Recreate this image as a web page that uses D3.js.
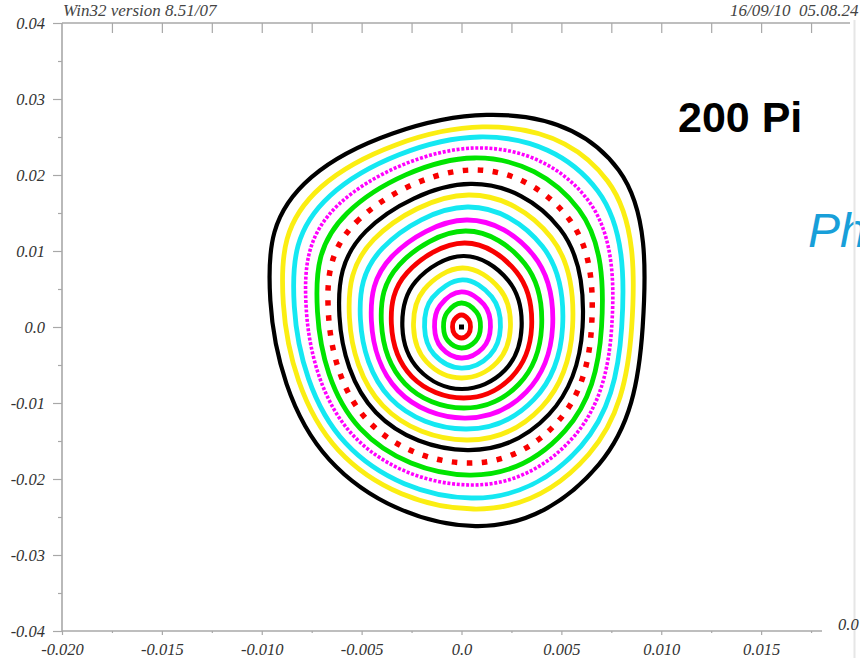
<!DOCTYPE html>
<html>
<head>
<meta charset="utf-8">
<script src="https://cdn.jsdelivr.net/npm/d3@7"></script>
<style>
  html, body { margin: 0; padding: 0; background: #fff; overflow: hidden; }
  svg { display: block; }
  text { white-space: pre; }
</style>
</head>
<body>
<svg id="chart" width="860" height="658"></svg>
<script>
// ---- Data ----
// 18 closed orbits, innermost (index 0) to outermost; 8 vertices each:
// left, top-left, top, top-right, right, bottom-right, bottom, bottom-left
const ringColor = ["red","green","magenta","cyan","yellow","black",
                   "red","green","magenta","cyan","yellow","black",
                   "red","green","magenta","cyan","yellow","black"];
const ringStyle = ["solid","solid","solid","solid","solid","solid",
                   "solid","solid","solid","solid","solid","solid",
                   "squares","solid","dots","solid","solid","solid"];

const leftX   = [-0.00045,-0.00090,-0.00135,-0.00185,-0.00240,-0.00296,-0.00351,-0.00401,-0.00451,-0.00506,-0.00561,-0.00611,-0.00666,-0.00721,-0.00777,-0.00837,-0.00892,-0.00957];
const leftY   = [0,0,0,0,0,0,0.0004,0.0006,0.0008,0.0010,0.0012,0.0014,0.0017,0.0020,0.0023,0.0027,0.0031,0.0035];
const tlX     = [-0.000361,-0.000723,-0.001073,-0.001460,-0.001874,-0.002289,-0.002721,-0.003117,-0.003507,-0.003950,-0.004386,-0.004790,-0.005261,-0.005714,-0.006143,-0.006579,-0.007021,-0.007507];
const tlY     = [0.000949,0.001898,0.002819,0.003834,0.004922,0.006011,0.007146,0.008188,0.009212,0.010375,0.011520,0.012580,0.013818,0.015009,0.016135,0.017279,0.018443,0.019717];
const topX    = [0,0,0,0.00005,0.00005,0.0001,0.00015,0.0002,0.00025,0.0003,0.00035,0.00045,0.00055,0.00065,0.00075,0.0009,0.00105,0.00125];
const topY    = [0.00158,0.00316,0.00461,0.00619,0.00776,0.00934,0.01105,0.01263,0.01408,0.01579,0.01737,0.01882,0.02066,0.02224,0.02356,0.02500,0.02632,0.02790];
const trX     = [0.000361,0.000747,0.001123,0.001513,0.001909,0.002335,0.002753,0.003167,0.003599,0.004046,0.004488,0.004924,0.005395,0.005877,0.006341,0.006820,0.007312,0.007865];
const trY     = [0.000949,0.001963,0.002950,0.003973,0.005015,0.006132,0.007230,0.008319,0.009454,0.010626,0.011789,0.012934,0.014172,0.015437,0.016656,0.017912,0.019206,0.020657];
const rightX  = [0.00045,0.00095,0.00145,0.00195,0.00245,0.00301,0.00351,0.00401,0.00456,0.00506,0.00556,0.00606,0.00651,0.00701,0.00752,0.00802,0.00852,0.00907];
const brX     = [0.000349,0.000705,0.001063,0.001417,0.001775,0.002168,0.002508,0.002870,0.003249,0.003628,0.004014,0.004379,0.004783,0.005186,0.005562,0.005976,0.006373,0.006880];
const brY     = [-0.000917,-0.001852,-0.002792,-0.003722,-0.004662,-0.005695,-0.006588,-0.007537,-0.008533,-0.009528,-0.010543,-0.011501,-0.012562,-0.013623,-0.014609,-0.015698,-0.016740,-0.018070];
const bottomX = [0,0,0,0,0,0,0.0001,0.0001,0.00015,0.0002,0.00025,0.0003,0.00035,0.0004,0.00045,0.0005,0.0006,0.0007];
const bottomY = [-0.00145,-0.00276,-0.00408,-0.00540,-0.00671,-0.00816,-0.00934,-0.01066,-0.01198,-0.01342,-0.01487,-0.01619,-0.01790,-0.01948,-0.02079,-0.02250,-0.02395,-0.02619];
const blX     = [-0.000349,-0.000684,-0.001020,-0.001375,-0.001747,-0.002133,-0.002487,-0.002834,-0.003181,-0.003564,-0.003939,-0.004283,-0.004690,-0.005077,-0.005427,-0.005810,-0.006168,-0.006628];
const blY     = [-0.000917,-0.001796,-0.002680,-0.003610,-0.004587,-0.005602,-0.006532,-0.007444,-0.008356,-0.009361,-0.010347,-0.011250,-0.012320,-0.013334,-0.014255,-0.015260,-0.016200,-0.017410];

const centerPoint = [0.0, 0.0];

const xMajorTicks = [-0.020,-0.015,-0.010,-0.005,0.0,0.005,0.010,0.015];
const xMinorTicks = [-0.0175,-0.0125,-0.0075,-0.0025,0.0025,0.0075,0.0125,0.0175];
const xTopTicks   = [-0.0175,-0.015,-0.0125,-0.010,-0.0075,-0.005,-0.0025,0.0,0.0025,0.005,0.0075,0.010,0.0125,0.015,0.0175];
const yMajorTicks = [-0.04,-0.03,-0.02,-0.01,0.0,0.01,0.02,0.03,0.04];
const yMinorTicks = [-0.035,-0.025,-0.015,-0.005,0.005,0.015,0.025,0.035];

const headerLeft = "Win32 version 8.51/07";
const headerRight = "16/09/10  05.08.24";
const titleText = "200 Pi";
const sideText = "Ph";
const neighbourLabel = "0.0";

// ---- Drawing ----
const svg = d3.select("#chart");
const x = d3.scaleLinear().domain([-0.02, 0.02]).range([62, 861]);
const y = d3.scaleLinear().domain([-0.04, 0.04]).range([631, 23]);

const colorMap = { red:"#f80000", green:"#00e400", magenta:"#ff00ff", cyan:"#14e8f2", yellow:"#fbee12", black:"#000000" };
const axisColor = "#a8a8a8";
const labelFont = "'Liberation Serif', 'DejaVu Serif', serif";
const labelSize = 16.5;

const minus = s => s.replace("\u2212", "-");
const fmtX = d => d === 0 ? "0.0" : minus(d3.format(".3f")(d));
const fmtY = d => d === 0 ? "0.0" : minus(d3.format(".2f")(d));

// left axis
const gL = svg.append("g").attr("transform", `translate(${x(-0.02)},0)`);
gL.call(d3.axisLeft(y).tickValues(yMajorTicks).tickSize(9).tickPadding(8).tickFormat(fmtY));
gL.append("g").call(d3.axisLeft(y).tickValues(yMinorTicks).tickSize(4).tickFormat(""));
// bottom axis
const gB = svg.append("g").attr("transform", `translate(0,${y(-0.04)})`);
gB.call(d3.axisBottom(x).tickValues(xMajorTicks).tickSize(4).tickPadding(8).tickFormat(fmtX));
gB.append("g").call(d3.axisBottom(x).tickValues(xMinorTicks).tickSize(2).tickFormat(""));
// top frame
const gT = svg.append("g").attr("transform", `translate(0,${y(0.04)})`);
gT.call(d3.axisBottom(x).tickValues(xTopTicks).tickSize(10).tickFormat(""));

svg.selectAll(".domain").remove();
svg.selectAll(".tick line").attr("stroke", axisColor).attr("stroke-width", 1.2);
svg.selectAll(".tick text").attr("fill", "#333").attr("font-family", labelFont)
   .attr("font-style", "italic").attr("font-size", labelSize);

// axis lines
svg.append("line").attr("x1", x(-0.02)).attr("x2", x(-0.02)).attr("y1", y(0.04)).attr("y2", y(-0.04) + 1)
   .attr("stroke", axisColor).attr("stroke-width", 1.6);
svg.append("line").attr("x1", x(-0.02)).attr("x2", 822).attr("y1", y(-0.04)).attr("y2", y(-0.04))
   .attr("stroke", axisColor).attr("stroke-width", 1.6);
svg.append("line").attr("x1", x(-0.02)).attr("x2", 850).attr("y1", y(0.04)).attr("y2", y(0.04))
   .attr("stroke", axisColor).attr("stroke-width", 1.6);

// rings
const line = d3.line().x(d => x(d[0])).y(d => y(d[1])).curve(d3.curveCardinalClosed.tension(-0.125));
const rings = ringColor.map((c, i) => ({
  color: c, style: ringStyle[i],
  pts: [[leftX[i], leftY[i]], [tlX[i], tlY[i]], [topX[i], topY[i]], [trX[i], trY[i]],
        [rightX[i], 0], [brX[i], brY[i]], [bottomX[i], bottomY[i]], [blX[i], blY[i]]]
}));
svg.append("g").selectAll("path").data(rings).join("path")
  .attr("d", d => line(d.pts))
  .attr("fill", "none")
  .attr("stroke", d => colorMap[d.color])
  .attr("stroke-width", d => d.style === "squares" ? 5.5 : d.style === "dots" ? 3.6 : (d.color === "black" ? 4.2 : 4.8))
  .attr("stroke-dasharray", d => d.style === "squares" ? "5.5 9.5" : d.style === "dots" ? "3 1.7" : null)
  .attr("stroke-linecap", "butt");

svg.append("rect").attr("x", x(centerPoint[0]) - 2.5).attr("y", y(centerPoint[1]) - 2.5)
   .attr("width", 5).attr("height", 5).attr("fill", "#000");

// header texts
svg.append("text").attr("x", 63).attr("y", 16).text(headerLeft)
   .attr("font-family", labelFont).attr("font-style", "italic").attr("font-size", 17).attr("fill", "#444");
svg.append("text").attr("x", 730).attr("y", 16).text(headerRight)
   .attr("font-family", labelFont).attr("font-style", "italic").attr("font-size", 17).attr("fill", "#444");

// annotation
svg.append("text").attr("x", 678).attr("y", 132).text(titleText)
   .attr("font-family", "'Liberation Sans', Arial, sans-serif").attr("font-weight", "bold")
   .attr("font-size", 43).attr("fill", "#000");
svg.append("text").attr("x", 808).attr("y", 247).text(sideText)
   .attr("font-family", "'Liberation Sans', Arial, sans-serif").attr("font-style", "italic")
   .attr("font-size", 48).attr("fill", "#189fd9");

// overlapping neighbour panel fragments
svg.append("line").attr("x1", 854.5).attr("x2", 854.5).attr("y1", 20).attr("y2", 658)
   .attr("stroke", "#e6e6e6").attr("stroke-width", 2);
svg.append("text").attr("x", 838).attr("y", 630).text(neighbourLabel)
   .attr("font-family", labelFont).attr("font-style", "italic").attr("font-size", labelSize).attr("fill", "#333");
</script>
</body>
</html>
